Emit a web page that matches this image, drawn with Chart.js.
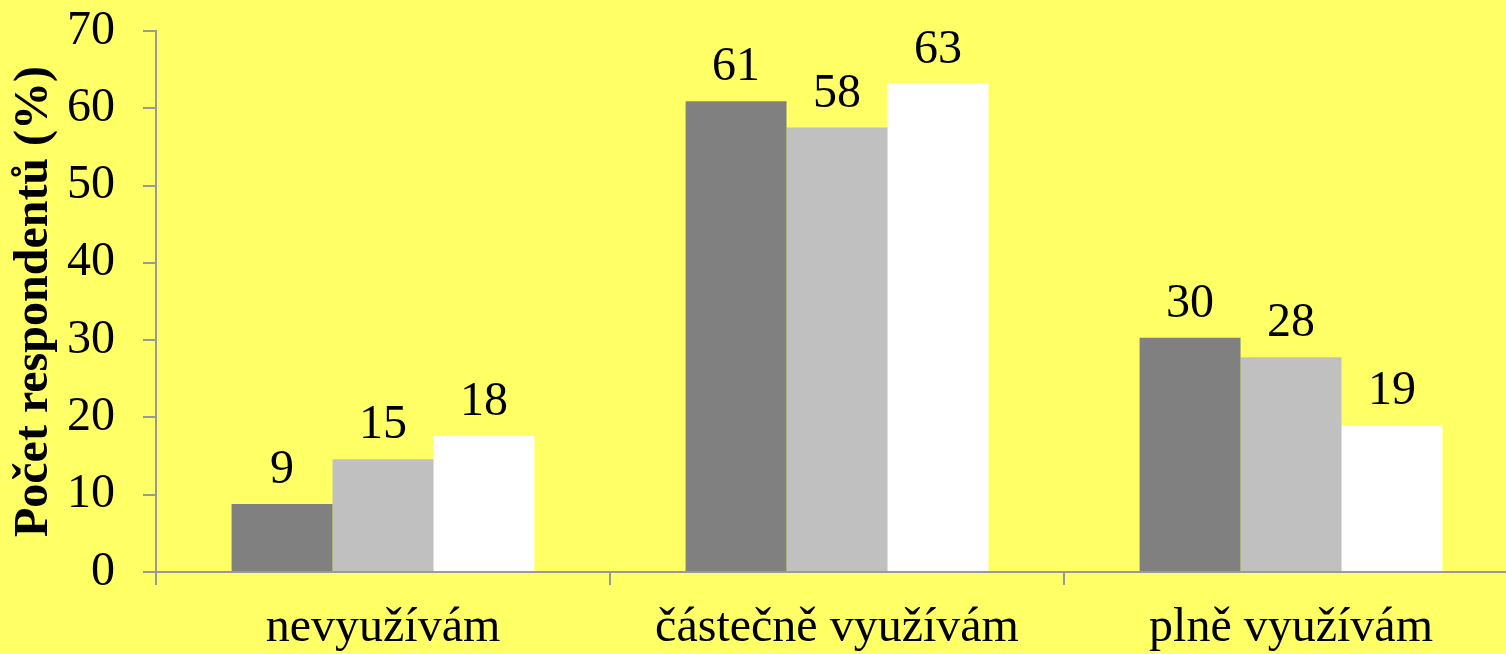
<!DOCTYPE html>
<html><head><meta charset="utf-8">
<script src="https://cdn.jsdelivr.net/npm/chart.js@4"></script>
<style>
html,body{margin:0;padding:0;background:#FFFF66;overflow:hidden;width:1506px;height:654px}
#wrap{position:absolute;left:0;top:0;width:1518px;height:654px}
</style>
</head><body><div id="wrap"><canvas id="c" width="1518" height="654"></canvas></div>
<script>
const categories = ['nevyužívám', 'částečně využívám', 'plně využívám'];
const seriesA = [8.8, 60.9, 30.3];
const seriesB = [14.6, 57.5, 27.8];
const seriesC = [17.6, 63.2, 19.0];
const yMin = 0, yMax = 70, yStep = 10;
const yTitle = 'Počet respondentů (%)';

const FONT = "'Liberation Serif', 'Times New Roman', serif";
const AXIS = '#999999';

const labelPlugin = {
  id: 'valLabels',
  afterDatasetsDraw(chart) {
    const ctx = chart.ctx;
    ctx.save();
    ctx.font = '48px ' + FONT;
    ctx.fillStyle = '#000';
    ctx.textAlign = 'center';
    ctx.textBaseline = 'alphabetic';
    chart.data.datasets.forEach((ds, i) => {
      chart.getDatasetMeta(i).data.forEach((el, j) => {
        ctx.fillText(String(Math.round(ds.data[j])), el.x, el.y - 21);
      });
    });
    ctx.restore();
  }
};

new Chart(document.getElementById('c'), {
  type: 'bar',
  data: {
    labels: categories,
    datasets: [
      { data: seriesA, backgroundColor: '#808080' },
      { data: seriesB, backgroundColor: '#C0C0C0' },
      { data: seriesC, backgroundColor: '#FFFFFF' }
    ]
  },
  options: {
    responsive: false,
    devicePixelRatio: 1,
    animation: false,
    layout: { padding: { top: 31, left: 0, right: 0, bottom: 0 } },
    datasets: { bar: { categoryPercentage: 0.667, barPercentage: 1.0 } },
    plugins: { legend: { display: false }, tooltip: { enabled: false } },
    scales: {
      x: {
        afterFit: s => { s.height = 82; s.paddingLeft = 0; s.paddingRight = 0; },
        grid: { offset: true, drawOnChartArea: false, drawTicks: true, tickLength: 13, color: AXIS, lineWidth: 2 },
        border: { color: AXIS, width: 2 },
        ticks: { color: '#000', font: { family: FONT, size: 48 }, padding: 15, maxRotation: 0 }
      },
      y: {
        min: yMin, max: yMax,
        afterFit: s => { s.width = 156; s.paddingTop = 0; s.paddingBottom = 0; },
        grid: { drawOnChartArea: false, drawTicks: true, tickLength: 13, color: AXIS, lineWidth: 2 },
        border: { color: AXIS, width: 2 },
        ticks: { stepSize: yStep, color: '#000', font: { family: FONT, size: 48 }, padding: 28 },
        title: { display: true, text: yTitle, color: '#000', font: { family: FONT, size: 48, weight: 'bold' }, padding: { top: 6, bottom: 0 } }
      }
    }
  },
  plugins: [labelPlugin]
});
</script>
</body></html>
